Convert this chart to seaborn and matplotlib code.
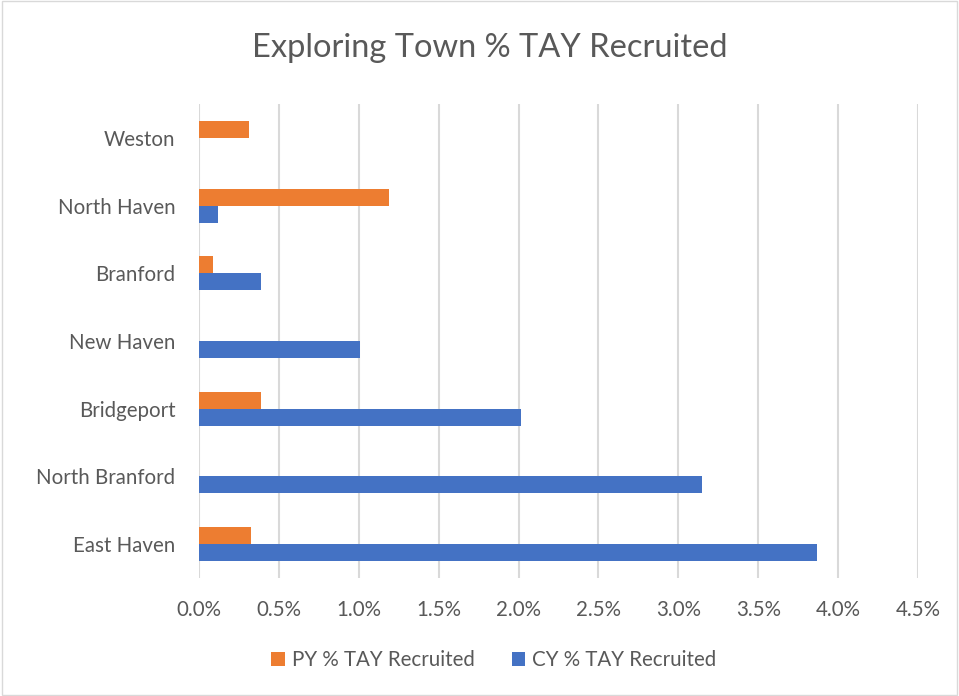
import matplotlib
matplotlib.use("Agg")
import matplotlib.pyplot as plt
import seaborn as sns
import pandas as pd
import numpy as np
from matplotlib.patches import Rectangle
from matplotlib.ticker import FuncFormatter, MultipleLocator

towns = ["Weston", "North Haven", "Branford", "New Haven", "Bridgeport", "North Branford", "East Haven"]
py_vals = [0.31, 1.19, 0.09, 0.0, 0.39, 0.0, 0.325]
cy_vals = [0.0, 0.12, 0.39, 1.01, 2.015, 3.15, 3.865]
series = ["PY % TAY Recruited", "CY % TAY Recruited"]
colors = ["#ED7D31", "#4472C4"]

df = pd.DataFrame({
    "Town": towns * 2,
    "Series": [series[0]] * len(towns) + [series[1]] * len(towns),
    "Value": py_vals + cy_vals,
})

sns.set_theme(style="white")
plt.rcParams["font.family"] = ["Lato", "DejaVu Sans"]

fig = plt.figure(figsize=(9.59, 6.96), dpi=100)
ax = fig.add_axes([199 / 959, 1 - 578 / 696, (918 - 199) / 959, (578 - 104) / 696])

sns.barplot(data=df, y="Town", x="Value", hue="Series", order=towns, hue_order=series,
            palette=colors, orient="h", width=0.5, linewidth=0, saturation=1, ax=ax, legend=True)

ax.set_xlim(0, 4.5)
ax.xaxis.set_major_locator(MultipleLocator(0.5))
ax.xaxis.set_major_formatter(FuncFormatter(lambda v, p: f"{v:.1f}%"))
ax.grid(axis="x", color="#d9d9d9", linewidth=1.5)
ax.set_axisbelow(True)
for s in ax.spines.values():
    s.set_visible(False)
ax.set_xlabel("")
ax.set_ylabel("")
ax.tick_params(axis="both", length=0, labelsize=14.8, colors="#595959")
ax.tick_params(axis="x", pad=16)
ax.tick_params(axis="y", pad=17)

handles, labels = ax.get_legend_handles_labels()
ax.get_legend().remove()
fig.legend(handles, labels, loc="center", bbox_to_anchor=(0.515, 1 - 660 / 696), ncol=2,
           frameon=False, fontsize=14.8, labelcolor="#595959", handlelength=0.65, handleheight=0.65,
           columnspacing=1.8, handletextpad=0.35)

fig.text(0.511, 1 - 48 / 696, "Exploring Town % TAY Recruited", ha="center", va="center",
         fontsize=23.5, color="#595959")

fig.patches.append(Rectangle((0.002, 0.002), 0.996, 0.996, transform=fig.transFigure,
                             fill=False, edgecolor="#d9d9d9", linewidth=1))

fig.savefig("out.png", dpi=100)
